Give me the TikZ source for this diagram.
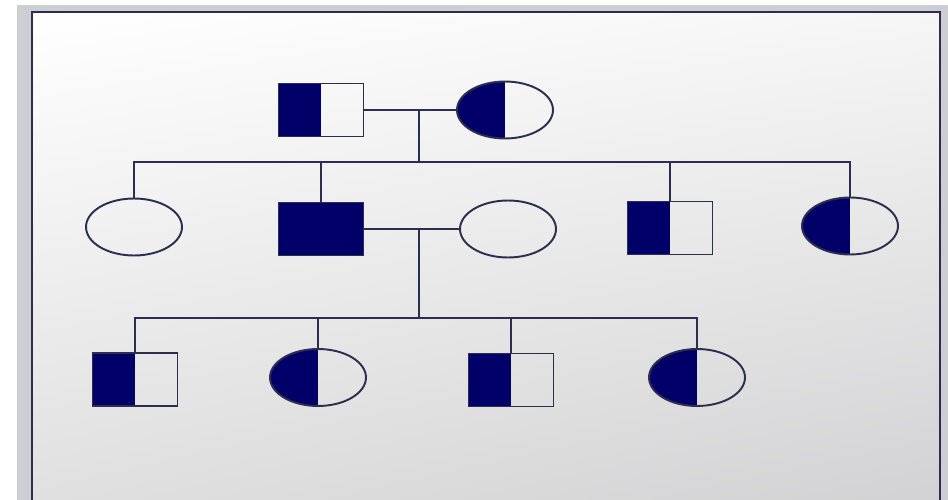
\documentclass[tikz,border=0pt]{standalone}
\usepackage{tikz}
\usetikzlibrary{shapes.geometric,shadings}
\definecolor{navy}{RGB}{0,0,104}
\definecolor{edge}{RGB}{45,45,80}
\definecolor{band}{RGB}{205,205,212}
\definecolor{bgtr}{RGB}{246,246,246}
\definecolor{bgbl}{RGB}{224,224,224}
\definecolor{bgbr}{RGB}{210,210,212}

\begin{document}
\begin{tikzpicture}[
    x=0.02cm, y=-0.02cm,
    every node/.style={draw=edge, line width=1.1pt, inner sep=0pt},
    male/.style={rectangle, minimum width=1.7cm, minimum height=1.06cm},
    female/.style={ellipse, minimum width=1.92cm, minimum height=1.14cm},
    carrier/.style={path picture={\fill[navy] (path picture bounding box.south west) rectangle (path picture bounding box.north);}},
    affected/.style={fill=navy},
    line/.style={draw=edge, line width=1.1pt}
]
    \useasboundingbox (0,0) rectangle (948,500);
    % Frame
    \fill[band] (17,5) rectangle (948,500);
    \shade[upper left=white, upper right=bgtr, lower left=bgbl, lower right=bgbr]
        (32,12) rectangle (940,500);
    \draw[edge, line width=1.3pt] (32,500) -- (32,12) -- (940,12) -- (940,500);

    % Parents
    \node[male, carrier] (dad) at (321,110) {};
    \node[female, carrier] (mum) at (505,110) {};
    % Children
    \node[female] (kid1) at (134,227) {};
    \node[male, affected] (kid2) at (321,229) {};
    \node[female] (wife) at (508,229) {};
    \node[male, carrier] (kid3) at (670,228) {};
    \node[female, carrier] (kid4) at (850,226) {};
    % Grandchildren
    \node[male, carrier] (gc1) at (135,379.5) {};
    \node[female, carrier] (gc2) at (318,377.5) {};
    \node[male, carrier] (gc3) at (511,380) {};
    \node[female, carrier] (gc4) at (697,377.5) {};

    \coordinate (sib1) at (419,162);
    \coordinate (sib2) at (419,318);

    \draw[line] (dad) -- (mum);
    \draw[line] (dad -| sib1) -- (sib1);
    \draw[line] (kid1.north) |- (sib1) -| (kid4.north);
    \draw[line] (kid2.north) -- (kid2 |- sib1);
    \draw[line] (kid3.north) -- (kid3 |- sib1);

    \draw[line] (kid2) -- (wife);
    \draw[line] (kid2 -| sib2) -- (sib2);
    \draw[line] (gc1.north) |- (sib2) -| (gc4.north);
    \draw[line] (gc2.north) -- (gc2 |- sib2);
    \draw[line] (gc3.north) -- (gc3 |- sib2);
\end{tikzpicture}
\end{document}
